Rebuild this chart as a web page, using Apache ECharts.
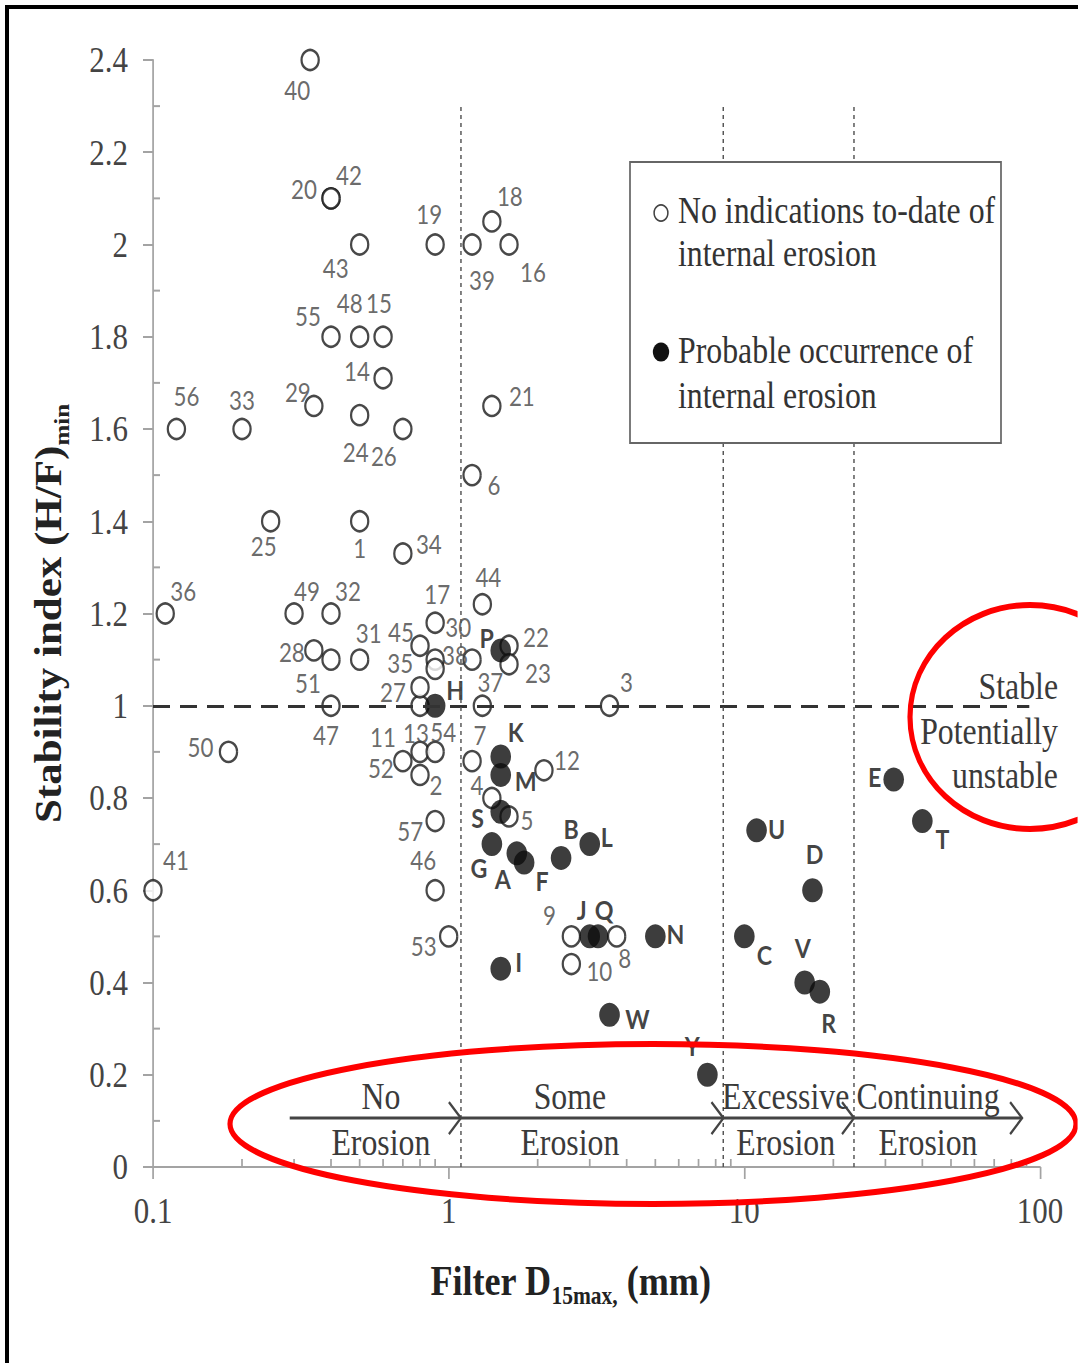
<!DOCTYPE html>
<html>
<head>
<meta charset="utf-8">
<title>Stability index vs filter D15max</title>
<script src="https://cdn.jsdelivr.net/npm/echarts@6/dist/echarts.min.js"></script>
<style>
  html, body { margin: 0; padding: 0; background: #fff; overflow: hidden; }
  #chart { position: absolute; left: 0; top: 0; height: 1363px; transform-origin: 0 0; }
  #frame { position: absolute; left: 5px; top: 5px; width: 1073px; height: 1358px;
           border-left: 4px solid #000; border-top: 4px solid #000; box-sizing: border-box; pointer-events: none; }
</style>
</head>
<body>
<div id="chart"></div>
<div id="frame"></div>
<script>
// ---- data ---------------------------------------------------------------
// dams with no indications to-date of internal erosion (numbered)
const openNames = ['1','2','3','4','5','6','7','8','9','10','11','12','13','14','15','16','17','18','19','20',
  '21','22','23','24','25','26','27','28','29','30','31','32','33','34','35','36','37','38','39','40',
  '41','42','43','44','45','46','47','48','49','50','51','52','53','54','55','56','57'];
const openD15 = [0.5, 0.8, 3.5, 1.4, 1.6, 1.2, 1.2, 3.7, 2.6, 2.6, 0.8, 2.1, 0.8, 0.6, 0.6, 1.6, 0.9, 1.4, 0.9, 0.4,
  1.4, 1.6, 1.6, 0.5, 0.25, 0.7, 0.8, 0.35, 0.35, 0.9, 0.5, 0.4, 0.2, 0.7, 0.9, 0.11, 1.3, 1.2, 1.2, 0.34,
  0.1, 0.4, 0.5, 1.3, 0.8, 0.9, 0.4, 0.5, 0.3, 0.18, 0.4, 0.7, 1.0, 0.9, 0.4, 0.12, 0.9];
const openHF = [1.4, 0.85, 1.0, 0.8, 0.76, 1.5, 0.88, 0.5, 0.5, 0.44, 1.0, 0.86, 0.9, 1.71, 1.8, 2.0, 1.18, 2.05, 2.0, 2.1,
  1.65, 1.13, 1.09, 1.63, 1.4, 1.6, 1.04, 1.12, 1.65, 1.1, 1.1, 1.2, 1.6, 1.33, 1.08, 1.2, 1.0, 1.1, 2.0, 2.4,
  0.6, 2.1, 2.0, 1.22, 1.13, 0.6, 1.0, 1.8, 1.2, 0.9, 1.1, 0.88, 0.5, 0.9, 1.8, 1.6, 0.75];

// dams with probable occurrence of internal erosion (lettered)
const erodedNames = ['A','B','C','D','E','F','G','H','I','J','K','L','M','N','P','Q','R','S','T','U','V','W','Y'];
const erodedD15 = [1.7, 2.4, 10, 17, 32, 1.8, 1.4, 0.9, 1.5, 3.0, 1.5, 3.0, 1.5, 5.0, 1.5, 3.2, 18, 1.5, 40, 11, 16, 3.5, 7.5];
const erodedHF = [0.68, 0.67, 0.5, 0.6, 0.84, 0.66, 0.7, 1.0, 0.43, 0.5, 0.89, 0.7, 0.85, 0.5, 1.12, 0.5, 0.38, 0.77, 0.75, 0.73, 0.4, 0.33, 0.2];

// axes
const xTickLabels = ['0.1', '1', '10', '100'];
const xMinorTicks = [0.2, 0.3, 0.4, 0.5, 0.6, 0.7, 0.8, 0.9, 2, 3, 4, 5, 6, 7, 8, 9, 20, 30, 40, 50, 60, 70, 80, 90];
const yMinorTicks = [0.1, 0.3, 0.5, 0.7, 0.9, 1.1, 1.3, 1.5, 1.7, 1.9, 2.1, 2.3];

// criteria
const stableLimit = 1;
const erosionBoundaries = [1.1, 8.5, 23.5];
const zoneTitles = ['No', 'Some', 'Excessive', 'Continuing'];

// ---- layout / style -----------------------------------------------------
const SX = 0.86;                       // horizontal condensing of the whole figure
const W = Math.round(1078 / SX);
const hx = v => v / SX;                // horizontal screen px -> chart px

// label placement around each marker (screen px: dx, dy)
const labelShift = {
  '1':[0,27],'2':[16,10],'3':[17,-24],'4':[-15,-13],'5':[18,3],'6':[22,10],'7':[8,-26],'8':[8,21],'9':[-22,-22],'10':[28,7],
  '11':[-37,31],'12':[23,-11],'13':[-4,-19],'14':[-26,-7],'15':[-4,-34],'16':[24,27],'17':[2,-29],'18':[18,-26],'19':[-6,-31],'20':[-27,-10],
  '21':[30,-10],'22':[27,-9],'23':[29,9],'24':[-4,37],'25':[-7,25],'26':[-19,27],'27':[-27,5],'28':[-22,1],'29':[-16,-14],'30':[23,-33],
  '31':[9,-27],'32':[17,-23],'33':[0,-29],'34':[26,-10],'35':[-35,-6],'36':[18,-23],'37':[8,-24],'38':[-17,-5],'39':[10,35],'40':[-13,30],
  '41':[23,-30],'42':[18,-24],'43':[-24,23],'44':[6,-27],'45':[-19,-14],'46':[-12,-30],'47':[-5,29],'48':[-10,-34],'49':[13,-23],'50':[-28,-5],
  '51':[-23,23],'52':[-22,7],'53':[-25,9],'54':[8,-20],'55':[-23,-21],'56':[10,-33],'57':[-25,10],
  A:[-14,25],B:[10,-30],C:[20,18],D:[2,-37],E:[-19,-3],F:[18,18],G:[-13,23],H:[20,-16],I:[18,-7],J:[-8,-27],K:[15,-25],
  L:[17,-8],M:[25,5],N:[20,-3],P:[-14,-13],Q:[6,-27],R:[9,31],S:[-23,5],T:[20,17],U:[20,-2],V:[-2,-35],W:[28,3],Y:[-15,-29]
};

const SERIF = '"Liberation Serif", "Times New Roman", serif';
const AXIS_GRAY = '#a3a3a3';

function points(names, xs, ys) {
  return names.map((n, i) => {
    const s = labelShift[n] || [0, -25];
    return { name: n, value: [xs[i], ys[i]], label: { offset: [hx(s[0]), s[1]] } };
  });
}

const el = document.getElementById('chart');
el.style.width = W + 'px';
el.style.transform = 'scaleX(' + SX + ')';
const chart = echarts.init(el, null, { renderer: 'svg', width: W, height: 1363 });

const dotted = { type: [4, 4], color: '#555', width: 1.7 };

chart.setOption({
  animation: false,
  backgroundColor: '#fff',
  grid: { left: hx(153), right: W - hx(1040), top: 60, bottom: 196, containLabel: false, outerBoundsMode: 'none' },
  xAxis: {
    type: 'log', logBase: 10, min: 0.1, max: 100, splitNumber: 3,
    name: 'Filter D{s|15max,} (mm)', nameLocation: 'middle', nameGap: 86, nameMoveOverlap: false,
    nameTextStyle: { fontFamily: SERIF, fontWeight: 'bold', fontSize: 42, color: '#222', padding: [0, hx(52), 0, 0],
      rich: { s: { fontFamily: SERIF, fontWeight: 'bold', fontSize: 25, color: '#222', padding: [30, 0, 0, 0] } } },
    axisLine: { show: true, lineStyle: { color: AXIS_GRAY, width: 2 } },
    axisTick: { show: true, length: 12, lineStyle: { color: AXIS_GRAY, width: 2 } },
    minorTick: { show: false },
    splitLine: { show: false },
    axisLabel: { fontFamily: SERIF, fontSize: 36, color: '#444', margin: 26, showMinLabel: true, showMaxLabel: true,
      formatter: v => xTickLabels[Math.round(Math.log10(v)) + 1] }
  },
  yAxis: {
    type: 'value', min: 0, max: 2.4, interval: 0.2,
    name: 'Stability index (H/F){s|min}', nameLocation: 'middle', nameGap: 94, nameMoveOverlap: false,
    nameTextStyle: { fontFamily: SERIF, fontWeight: 'bold', fontSize: 43, color: '#222',
      rich: { s: { fontFamily: SERIF, fontWeight: 'bold', fontSize: 25, color: '#222', padding: [30, 0, 0, 0] } } },
    axisLine: { show: true, lineStyle: { color: AXIS_GRAY, width: 2 } },
    axisTick: { show: true, length: hx(10), lineStyle: { color: AXIS_GRAY, width: 2 } },
    splitLine: { show: false },
    axisLabel: { fontFamily: SERIF, fontSize: 36, color: '#444', margin: hx(25) }
  },
  series: [
    {
      name: 'No indications to-date of internal erosion',
      type: 'scatter', clip: false, z: 3,
      symbol: 'circle', symbolSize: 20,
      itemStyle: { color: '#fff', borderColor: '#1a1a1a', borderWidth: 2.6 },
      label: { show: true, position: 'inside', formatter: '{b}', fontFamily: 'Lato', fontSize: 26, color: '#444',
               align: 'center', verticalAlign: 'middle' },
      emphasis: { disabled: true },
      data: points(openNames, openD15, openHF),
      markLine: {
        silent: true, symbol: ['none', 'none'], label: { show: false },
        data: [
          [{ coord: [0.1, stableLimit], lineStyle: { type: [hx(17), hx(10)], color: '#333', width: 3 } },
           { coord: [92, stableLimit] }]
        ].concat(erosionBoundaries.map(b => [
          { coord: [b, 0], lineStyle: dotted }, { coord: [b, 2.3] }
        ]))
      }
    },
    {
      name: 'Probable occurrence of internal erosion',
      type: 'scatter', clip: false, z: 4,
      symbol: 'circle', symbolSize: 24,
      itemStyle: { color: '#0d0d0d' },
      label: { show: true, position: 'inside', formatter: '{b}', fontFamily: 'Lato', fontWeight: 'bold', fontSize: 27, color: '#111',
               align: 'center', verticalAlign: 'middle' },
      emphasis: { disabled: true },
      data: points(erodedNames, erodedD15, erodedHF)
    },
    {
      // minor ticks of the logarithmic x axis, drawn inward
      type: 'custom', silent: true, clip: false, z: 1,
      data: xMinorTicks.map(v => [v, 0]),
      renderItem: (params, api) => {
        const p = api.coord([api.value(0), 0]);
        return { type: 'line', shape: { x1: p[0], y1: p[1], x2: p[0], y2: p[1] - 8 },
                 style: { stroke: AXIS_GRAY, lineWidth: 2 } };
      }
    },
    {
      // minor ticks of the y axis, drawn inward
      type: 'custom', silent: true, clip: false, z: 1,
      data: yMinorTicks.map(v => [0.1, v]),
      renderItem: (params, api) => {
        const p = api.coord([0.1, api.value(1)]);
        return { type: 'line', shape: { x1: p[0], y1: p[1], x2: p[0] + hx(7), y2: p[1] },
                 style: { stroke: AXIS_GRAY, lineWidth: 2 } };
      }
    }
  ]
});

// ---- annotations ----------------------------------------------------------
const toPx = (x, y) => chart.convertToPixel({ gridIndex: 0 }, [x, y]);
const serifText = (text, x, y, align, color) => ({
  type: 'text', x: x, y: y, z: 100, silent: true,
  style: { text: text, fontFamily: SERIF, fontSize: 37, fill: color || '#333', align: align || 'left', verticalAlign: 'middle' }
});

const g = [];

// legend box
g.push({ type: 'rect', z: 90, silent: true, shape: { x: hx(630), y: 162, width: hx(371), height: 281 },
         style: { fill: '#fff', stroke: '#666', lineWidth: 2 } });
g.push({ type: 'circle', z: 100, silent: true, shape: { cx: hx(661), cy: 213, r: 8 },
         style: { fill: '#fff', stroke: '#444', lineWidth: 1.8 } });
g.push({ type: 'circle', z: 100, silent: true, shape: { cx: hx(661), cy: 352, r: 9.5 }, style: { fill: '#111' } });
g.push(serifText('No indications to-date of', hx(678), 210));
g.push(serifText('internal erosion', hx(678), 253));
g.push(serifText('Probable occurrence of', hx(678), 350));
g.push(serifText('internal erosion', hx(678), 395));

// stable / potentially unstable note at the H/F = 1 criterion
const yStable = toPx(1, stableLimit)[1];
g.push(serifText('Stable', hx(1058), yStable - 20, 'right', '#3a3a3a'));
g.push(serifText('Potentially', hx(1058), yStable + 25, 'right', '#3a3a3a'));
g.push(serifText('unstable', hx(1058), yStable + 69, 'right', '#3a3a3a'));

// erosion-progress arrow along the bottom of the plot
const arrowLevel = 0.106;
const arrowFrom = toPx(0.29, arrowLevel);
const arrowTo = toPx(87, arrowLevel);
const ay = arrowFrom[1];
g.push({ type: 'line', z: 100, silent: true, shape: { x1: arrowFrom[0], y1: ay, x2: arrowTo[0], y2: ay },
         style: { stroke: '#444', lineWidth: 3 } });
erosionBoundaries.concat([87]).forEach(b => {
  const bx = toPx(b, arrowLevel)[0];
  g.push({ type: 'polyline', z: 100, silent: true,
           shape: { points: [[bx - hx(12), ay - 16], [bx, ay], [bx - hx(12), ay + 16]] },
           style: { stroke: '#444', lineWidth: 2.5, fill: null } });
});
const zoneCenters = [0.59, 2.57, 13.8, 41.8];
zoneTitles.forEach((t, i) => {
  const cx = toPx(zoneCenters[i], arrowLevel)[0];
  g.push(serifText(t, cx, ay - 22, 'center', '#3a3a3a'));
  g.push(serifText('Erosion', cx, ay + 24, 'center', '#3a3a3a'));
});

// red highlight ellipses
g.push({ type: 'ellipse', z: 110, silent: true, shape: { cx: hx(653), cy: 1124, rx: hx(423), ry: 80 },
         style: { fill: null, stroke: '#f00', lineWidth: 6 } });
g.push({ type: 'ellipse', z: 110, silent: true, shape: { cx: hx(1030), cy: 717, rx: hx(120), ry: 112 },
         style: { fill: null, stroke: '#f00', lineWidth: 6 } });

chart.setOption({ graphic: { elements: g } });
</script>
</body>
</html>
